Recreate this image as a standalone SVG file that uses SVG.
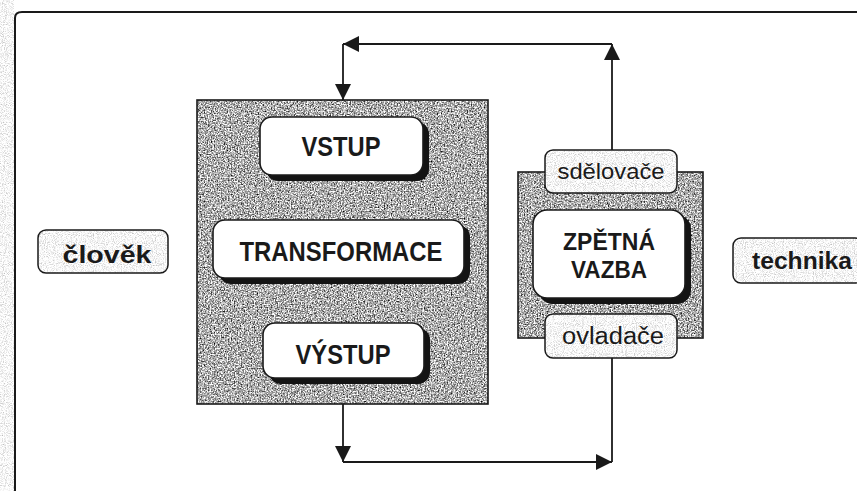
<svg xmlns="http://www.w3.org/2000/svg" width="857" height="491" viewBox="0 0 857 491">
<style>
  .frame{fill:none;stroke:#1a1a1a;stroke-width:2}
  .shadow{fill:#141414}
  .card{fill:#ffffff;stroke:#1a1a1a;stroke-width:1.6}
  .tag{fill:none;stroke:#1a1a1a;stroke-width:1.5}
  .edge{fill:none;stroke:#1a1a1a;stroke-width:1.6}
  .bold{font-family:"Liberation Sans",Arial,Helvetica,sans-serif;font-weight:bold;fill:#1a1a1a;text-anchor:middle}
  .reg{font-family:"Liberation Sans",Arial,Helvetica,sans-serif;font-weight:normal;fill:#1a1a1a;text-anchor:middle}
  .wire{fill:none;stroke:#1a1a1a;stroke-width:1.8}
</style>
<defs>
  <filter id="grain" x="0" y="0" width="100%" height="100%" color-interpolation-filters="sRGB">
    <feTurbulence type="fractalNoise" baseFrequency="0.7" numOctaves="2" seed="7" result="n"/>
    <feColorMatrix in="n" type="saturate" values="0" result="g"/>
    <feComponentTransfer in="g" result="c">
      <feFuncR type="linear" slope="2.4" intercept="-0.52"/>
      <feFuncG type="linear" slope="2.4" intercept="-0.52"/>
      <feFuncB type="linear" slope="2.4" intercept="-0.52"/>
      <feFuncA type="linear" slope="0" intercept="1"/>
    </feComponentTransfer>
    <feComposite in="c" in2="SourceAlpha" operator="in"/>
  </filter>
  <filter id="light" x="0" y="0" width="100%" height="100%" color-interpolation-filters="sRGB">
    <feTurbulence type="fractalNoise" baseFrequency="1.1" numOctaves="1" seed="3" result="n"/>
    <feColorMatrix in="n" type="saturate" values="0" result="g"/>
    <feComponentTransfer in="g" result="c">
      <feFuncR type="linear" slope="0.9" intercept="0.52"/>
      <feFuncG type="linear" slope="0.9" intercept="0.52"/>
      <feFuncB type="linear" slope="0.9" intercept="0.52"/>
      <feFuncA type="linear" slope="0" intercept="1"/>
    </feComponentTransfer>
    <feComposite in="c" in2="SourceAlpha" operator="in"/>
  </filter>
  <marker id="arr" viewBox="0 0 16 16" refX="16" refY="8" markerWidth="16" markerHeight="16" markerUnits="userSpaceOnUse" orient="auto">
    <path d="M0,0 L16,8 L0,16 z" fill="#1a1a1a"/>
  </marker>
</defs>

<rect x="0" y="0" width="857" height="491" fill="#ffffff"/>
<rect x="0" y="0" width="14" height="491" fill="#ddd" filter="url(#light)"/>

<path class="frame" d="M15,491 V18 Q15,12 22,12 H857"/>

<g id="system">
  <rect x="197" y="100" width="291" height="304" fill="#999" filter="url(#grain)"/>
  <rect class="edge" x="197" y="100" width="291" height="304"/>
</g>

<g id="vstup">
  <rect class="shadow" x="266" y="122" width="163" height="59" rx="12"/>
  <rect class="card" x="260" y="117" width="163" height="58" rx="12"/>
  <text class="bold" x="341" y="156" font-size="28" textLength="79" lengthAdjust="spacingAndGlyphs">VSTUP</text>
</g>

<g id="transformace">
  <rect class="shadow" x="219" y="225" width="251" height="59" rx="12"/>
  <rect class="card" x="213" y="220" width="251" height="58" rx="12"/>
  <text class="bold" x="341" y="261" font-size="28" textLength="203" lengthAdjust="spacingAndGlyphs">TRANSFORMACE</text>
</g>

<g id="vystup">
  <rect class="shadow" x="269" y="328" width="161" height="56" rx="12"/>
  <rect class="card" x="263" y="323" width="161" height="55" rx="12"/>
  <text class="bold" x="343" y="364" font-size="28" textLength="95" lengthAdjust="spacingAndGlyphs">VÝSTUP</text>
</g>

<g id="zpetna-vazba">
  <rect x="518" y="172" width="185" height="166" fill="#999" filter="url(#grain)"/>
  <rect class="edge" x="518" y="172" width="185" height="166"/>
  <rect class="shadow" x="539" y="215" width="152" height="89" rx="14"/>
  <rect class="card" x="533" y="210" width="152" height="88" rx="14"/>
  <text class="bold" x="609" y="249.5" font-size="24.5" textLength="92" lengthAdjust="spacingAndGlyphs">ZPĚTNÁ</text>
  <text class="bold" x="609" y="277.5" font-size="24.5" textLength="76" lengthAdjust="spacingAndGlyphs">VAZBA</text>
</g>

<g id="sdelovace">
  <rect x="545" y="150" width="132" height="43" rx="8" fill="#eee" filter="url(#light)"/>
  <rect class="tag" x="545" y="150" width="132" height="43" rx="8"/>
  <text class="reg" x="611" y="179" font-size="22" textLength="107" lengthAdjust="spacingAndGlyphs">sdělovače</text>
</g>

<g id="ovladace">
  <rect x="545" y="314" width="132" height="44" rx="8" fill="#eee" filter="url(#light)"/>
  <rect class="tag" x="545" y="314" width="132" height="44" rx="8"/>
  <text class="reg" x="613" y="344" font-size="23" textLength="102" lengthAdjust="spacingAndGlyphs">ovladače</text>
</g>

<g id="clovek">
  <rect x="38" y="230" width="130" height="43" rx="8" fill="#eee" filter="url(#light)"/>
  <rect class="tag" x="38" y="230" width="130" height="43" rx="8"/>
  <text class="bold" x="107" y="263" font-size="23.5" textLength="89" lengthAdjust="spacingAndGlyphs">člověk</text>
</g>

<g id="technika">
  <rect x="733" y="238" width="130" height="45" rx="8" fill="#eee" filter="url(#light)"/>
  <rect class="tag" x="733" y="238" width="130" height="45" rx="8"/>
  <text class="bold" x="802" y="269" font-size="23.5" textLength="100" lengthAdjust="spacingAndGlyphs">technika</text>
</g>

<g id="connectors">
  <path class="wire" d="M612,150 V44" marker-end="url(#arr)"/>
  <path class="wire" d="M612,44 H343" marker-end="url(#arr)"/>
  <path class="wire" d="M343,44 V100" marker-end="url(#arr)"/>
  <path class="wire" d="M343,404 V462" marker-end="url(#arr)"/>
  <path class="wire" d="M343,462 H612" marker-end="url(#arr)"/>
  <path class="wire" d="M612,358 V462"/>
</g>
</svg>
